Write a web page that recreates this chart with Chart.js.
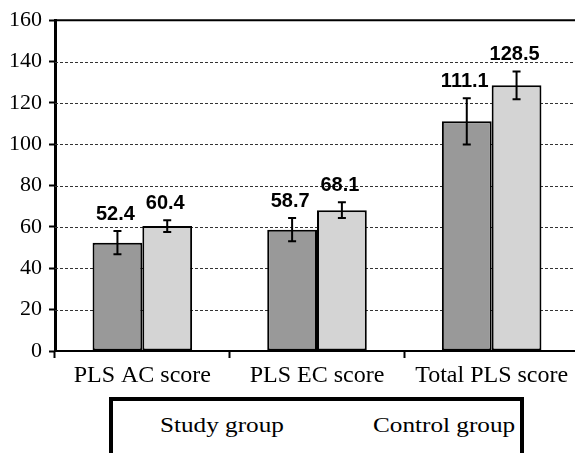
<!DOCTYPE html>
<html>
<head>
<meta charset="utf-8">
<script src="https://cdn.jsdelivr.net/npm/chart.js"></script>
<style>
  html, body { margin: 0; padding: 0; background: #fff; overflow: hidden; width: 575px; height: 453px; }
  #wrap { position: relative; width: 575px; height: 453px; overflow: hidden; }
  #score-chart { position: absolute; left: 0; top: 0; }
  #legend {
    position: absolute; left: 109px; top: 397px; width: 407px; height: 80px;
    border: 4px solid #000; font-family: "Liberation Serif", "Times New Roman", serif;
    font-size: 21px; color: #000;
  }
  #legend span { position: absolute; top: 12px; transform-origin: left center; transform: scaleX(1.2); white-space: nowrap; }
</style>
</head>
<body>
<div id="wrap">
  <canvas id="score-chart" width="579" height="395"></canvas>
  <div id="legend"><span style="left:47px">Study group</span><span style="left:260px">Control group</span></div>
</div>
<script>
/* ==========================
   Data
========================== */
const categories = ['PLS AC score', 'PLS EC score', 'Total PLS score'];
const studyMeans = [52.4, 58.7, 111.1];
const studyErrors = [5.6, 5.6, 11.2];
const controlMeans = [60.4, 68.1, 128.5];
const controlErrors = [2.8, 3.8, 6.7];
const yTicks = [0, 20, 40, 60, 80, 100, 120, 140, 160];

const serifFont = '"Liberation Serif", "Times New Roman", serif';

// dashed grid lines behind the bars, solid frame line at the top value
const gridPlugin = {
  id: 'dashedGrid',
  beforeDatasetsDraw(chart) {
    const ctx = chart.ctx;
    const area = chart.chartArea;
    const yScale = chart.scales.y;
    ctx.save();
    ctx.strokeStyle = '#333';
    ctx.lineWidth = 1;
    ctx.setLineDash([3, 2]);
    yTicks.slice(1, -1).forEach(v => {
      const y = Math.round(yScale.getPixelForValue(v)) + 0.5;
      ctx.beginPath();
      ctx.moveTo(area.left, y); ctx.lineTo(area.right, y);
      ctx.stroke();
    });
    ctx.setLineDash([]);
    ctx.lineWidth = 2;
    ctx.strokeStyle = '#000';
    const yMax = yScale.getPixelForValue(yTicks[yTicks.length - 1]);
    ctx.beginPath();
    ctx.moveTo(area.left, yMax); ctx.lineTo(area.right, yMax);
    ctx.stroke();
    ctx.restore();
  }
};

// error bars + value labels on top of each bar
const errorBarPlugin = {
  id: 'errorBars',
  afterDatasetsDraw(chart) {
    const ctx = chart.ctx;
    const yScale = chart.scales.y;
    chart.data.datasets.forEach((ds, di) => {
      const meta = chart.getDatasetMeta(di);
      meta.data.forEach((bar, i) => {
        const v = ds.data[i];
        const e = ds.errors[i];
        const yTop = yScale.getPixelForValue(v + e);
        const yBot = yScale.getPixelForValue(v - e);
        ctx.save();
        ctx.strokeStyle = '#000';
        ctx.lineWidth = 2;
        ctx.beginPath();
        ctx.moveTo(bar.x, yTop); ctx.lineTo(bar.x, yBot);
        ctx.moveTo(bar.x - 4, yTop); ctx.lineTo(bar.x + 4, yTop);
        ctx.moveTo(bar.x - 4, yBot); ctx.lineTo(bar.x + 4, yBot);
        ctx.stroke();
        ctx.fillStyle = '#000';
        ctx.font = 'bold 20px "Liberation Sans", Arial, sans-serif';
        ctx.textAlign = 'center';
        ctx.textBaseline = 'alphabetic';
        ctx.fillText(v.toFixed(1), bar.x - 2, yTop - 11);
        ctx.restore();
      });
    });
  }
};

const ctx = document.getElementById('score-chart').getContext('2d');
const scoreChart = new Chart(ctx, {
  type: 'bar',
  data: {
    labels: categories,
    datasets: [
      {
        label: 'Study group',
        data: studyMeans,
        errors: studyErrors,
        backgroundColor: '#999999',
        borderColor: '#000',
        borderWidth: 2,
        borderSkipped: false,
        categoryPercentage: 0.57,
        barPercentage: 1.0,
      },
      {
        label: 'Control group',
        data: controlMeans,
        errors: controlErrors,
        backgroundColor: '#d4d4d4',
        borderColor: '#000',
        borderWidth: 2,
        borderSkipped: false,
        categoryPercentage: 0.57,
        barPercentage: 1.0,
      },
    ],
  },
  options: {
    responsive: false,
    animation: false,
    layout: { padding: { top: 17, left: 0, right: 0, bottom: 0 } },
    plugins: {
      legend: { display: false },
      tooltip: { enabled: false },
    },
    scales: {
      x: {
        grid: {
          offset: true,
          drawOnChartArea: false,
          tickLength: 7,
          tickColor: '#000',
          tickWidth: 2,
        },
        border: { color: '#000', width: 2 },
        ticks: {
          color: '#000',
          padding: 3,
          maxRotation: 0,
          autoSkip: false,
          font: { family: serifFont, size: 24 },
        },
        afterFit(scale) { scale.height = 44; },
      },
      y: {
        min: yTicks[0],
        max: yTicks[yTicks.length - 1],
        grid: {
          drawOnChartArea: false,
          tickLength: 6,
          tickColor: '#000',
          tickWidth: 2,
        },
        border: { color: '#000', width: 3 },
        ticks: {
          stepSize: yTicks[1] - yTicks[0],
          color: '#000',
          padding: 7,
          font: { family: serifFont, size: 22 },
        },
        afterFit(scale) { scale.width = 55; },
      },
    },
  },
  plugins: [gridPlugin, errorBarPlugin],
});
</script>
</body>
</html>
